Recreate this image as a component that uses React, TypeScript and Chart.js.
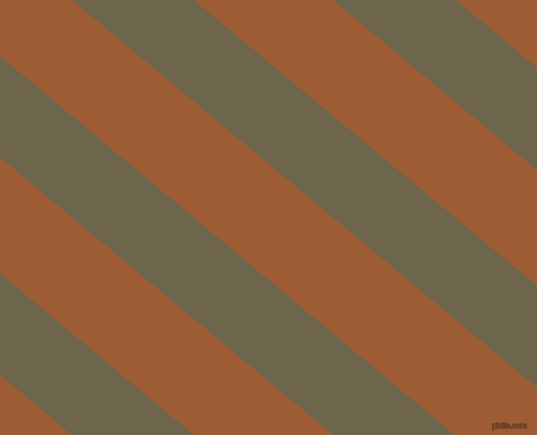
import React, { useEffect, useRef } from "react";
import Chart, { ChartConfiguration, Plugin } from "chart.js/auto";

// x where each olive stripe starts / ends along the top edge (y = 0)
const stripeStarts = [-450, -189, 72, 333];
const stripeEnds = [-328, -67, 194, 456];
// stripes run down to the right: 6 px across for every 5 px down
const slopeRise = 5;
const slopeRun = 6;
const sampleX = [-20, 557];

const brown = "#9d5c34";
const olive = "#6e664c";

function edge(x0: number) {
  return sampleX.map((x) => ({ x, y: ((x - x0) * slopeRise) / slopeRun }));
}

const watermark: Plugin<"scatter"> = {
  id: "watermark",
  afterDraw(chart) {
    const ctx = chart.ctx;
    ctx.save();
    ctx.font = '8px "Liberation Sans", Arial, sans-serif';
    ctx.textBaseline = "alphabetic";
    ctx.lineWidth = 1;
    ctx.strokeStyle = "rgba(55, 34, 20, 0.8)";
    ctx.strokeText("pixiis.com", 492, 428);
    ctx.fillStyle = "rgba(150, 92, 55, 1)";
    ctx.fillText("pixiis.com", 492, 428);
    ctx.restore();
  },
};

function StripeChart(): JSX.Element {
  const chartRef = useRef<HTMLCanvasElement | null>(null);
  const chartInstance = useRef<Chart | null>(null);

  useEffect(() => {
    document.body.style.margin = "0";
    if (chartRef.current) {
      const ctx = chartRef.current.getContext("2d");
      if (ctx) {
        if (chartInstance.current) {
          chartInstance.current.destroy();
        }

        const datasets: any[] = [];
        stripeStarts.forEach((start, i) => {
          datasets.push({
            data: edge(start),
            showLine: true,
            borderWidth: 0,
            borderColor: "transparent",
            pointRadius: 0,
            fill: false,
          });
          datasets.push({
            data: edge(stripeEnds[i]),
            showLine: true,
            borderWidth: 0,
            borderColor: "transparent",
            pointRadius: 0,
            backgroundColor: olive,
            fill: "-1",
          });
        });

        const config: ChartConfiguration<"scatter"> = {
          type: "scatter",
          data: { datasets },
          options: {
            animation: false,
            responsive: false,
            devicePixelRatio: 1,
            layout: { padding: 0 },
            events: [],
            scales: {
              x: { type: "linear", min: 0, max: 537, display: false },
              y: { type: "linear", min: 0, max: 435, reverse: true, display: false },
            },
            plugins: {
              legend: { display: false },
              tooltip: { enabled: false },
            },
          },
          plugins: [watermark],
        };

        chartInstance.current = new Chart(ctx, config);
      }
    }

    return () => {
      if (chartInstance.current) {
        chartInstance.current.destroy();
        chartInstance.current = null;
      }
    };
  }, []);

  return (
    <div style={{ width: 537, height: 435, background: brown }}>
      <canvas ref={chartRef} width={537} height={435} />
    </div>
  );
}

export default function App(): JSX.Element {
  return <StripeChart />;
}
